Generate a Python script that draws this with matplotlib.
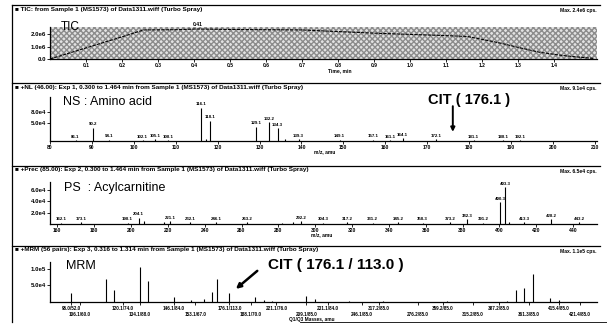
#!/usr/bin/env python3
"""Scanned Analyst-style screen: TIC, NL scan, precursor scan and MRM panels."""
import matplotlib

matplotlib.use("Agg")
import matplotlib.pyplot as plt
from matplotlib.lines import Line2D

plt.rcParams["font.family"] = ["Liberation Sans", "DejaVu Sans"]

W, H = 607, 325

# ---- panel 1: TIC ---------------------------------------------------------
tic_time = [0.0, 0.1, 0.2, 0.26, 0.35, 0.41, 0.5, 0.7, 0.9, 1.0, 1.1, 1.16,
            1.2, 1.25, 1.3, 1.36, 1.42, 1.47, 1.51]
tic_int = [0.0, 0.9e6, 1.8e6, 2.36e6, 2.38e6, 2.44e6, 2.40e6, 2.36e6, 2.10e6,
           2.00e6, 1.90e6, 1.83e6, 1.60e6, 1.30e6, 0.95e6, 0.55e6, 0.30e6,
           0.15e6, 0.05e6]
tic_ticks = [0.1, 0.2, 0.3, 0.4, 0.5, 0.6, 0.7, 0.8, 0.9, 1.0, 1.1, 1.2, 1.3, 1.4]

# ---- panel 2: neutral loss scan (amino acids) -----------------------------
ns_mz = [86.1, 90.2, 94.1, 102.1, 105.1, 108.1, 116.1, 117.1, 118.1, 129.1,
         132.2, 134.3, 136.1, 139.3, 149.1, 157.1, 161.1, 164.1, 172.1,
         181.1, 188.1, 192.1]
ns_int = [0.3e4, 3.6e4, 0.4e4, 0.3e4, 0.5e4, 0.3e4, 9.1e4, 0.6e4, 5.5e4,
          3.9e4, 5.1e4, 3.5e4, 0.6e4, 0.5e4, 0.4e4, 0.4e4, 0.3e4, 0.7e4,
          0.5e4, 0.3e4, 0.3e4, 0.3e4]
ns_labelled = [86.1, 90.2, 94.1, 102.1, 105.1, 108.1, 116.1, 118.1, 129.1,
               132.2, 134.3, 139.3, 149.1, 157.1, 161.1, 164.1, 172.1, 181.1,
               188.1, 192.1]
ns_ticks = list(range(80, 211, 10))

# ---- panel 3: precursor scan (acylcarnitines) -----------------------------
ps_mz = [162.1, 173.1, 198.1, 204.1, 207.1, 218.1, 221.1, 232.1, 246.1,
         263.2, 282.2, 288.2, 292.2, 304.3, 317.2, 331.2, 345.2, 358.3,
         373.2, 382.3, 391.2, 400.3, 403.3, 405.3, 413.3, 428.2, 443.2]
ps_int = [0.2e4, 0.3e4, 0.2e4, 1.1e4, 0.6e4, 0.3e4, 0.5e4, 0.3e4, 0.3e4,
          0.3e4, 0.2e4, 0.3e4, 0.5e4, 0.2e4, 0.3e4, 0.2e4, 0.3e4, 0.2e4,
          0.3e4, 0.8e4, 0.2e4, 3.8e4, 6.5e4, 0.4e4, 0.3e4, 0.8e4, 0.3e4]
ps_labelled = [162.1, 173.1, 198.1, 204.1, 221.1, 232.1, 246.1, 263.2,
               292.2, 304.3, 317.2, 331.2, 345.2, 358.3, 373.2, 382.3, 391.2,
               400.3, 403.3, 413.3, 428.2, 443.2]
ps_ticks = list(range(160, 441, 20))

# ---- panel 4: MRM transitions (index along the Q1/Q3 list) ----------------
mrm_idx = [5, 13, 15, 21, 23, 29, 33, 36, 38, 39, 42, 48, 50, 52, 60, 62,
           70, 78, 93, 107, 109, 111, 113, 117, 119]
mrm_int = [2.6e4, 6.8e4, 3.7e4, 10.5e4, 6.3e4, 1.4e4, 0.5e4, 0.8e4, 3.1e4,
           6.8e4, 2.6e4, 1.4e4, 0.5e4, 0.4e4, 1.9e4, 1.0e4, 0.3e4, 0.2e4,
           0.4e4, 0.3e4, 3.7e4, 4.2e4, 8.4e4, 1.3e4, 0.5e4]
mrm_row1_idx = [5, 17, 29, 42, 53, 65, 77, 92, 105, 119]
mrm_row1_lab = ["96.0/52.0", "120.1/74.0", "146.1/84.0", "176.1/113.0",
                "221.1/76.0", "231.1/84.0", "317.2/85.0", "359.2/85.0",
                "387.2/85.0", "415.4/85.0"]
mrm_row2_idx = [7, 21, 34, 47, 60, 73, 86, 99, 112, 124]
mrm_row2_lab = ["106.1/60.0", "134.1/88.0", "153.1/67.0", "188.1/70.0",
                "209.1/85.0", "246.1/85.0", "276.2/85.0", "315.2/85.0",
                "361.3/85.0", "421.4/85.0"]
mrm_cit_idx = 42

headers = [
    "TIC: from Sample 1 (MS1573) of Data1311.wiff (Turbo Spray)",
    "+NL (46.00): Exp 1, 0.300 to 1.464 min from Sample 1 (MS1573) of Data1311.wiff (Turbo Spray)",
    "+Prec (85.00): Exp 2, 0.300 to 1.464 min from Sample 1 (MS1573) of Data1311.wiff (Turbo Spray)",
    "+MRM (56 pairs): Exp 3, 0.316 to 1.314 min from Sample 1 (MS1573) of Data1311.wiff (Turbo Spray)",
]
max_labels = ["Max. 2.4e6 cps.", "Max. 9.1e4 cps.", "Max. 6.5e4 cps.", "Max. 1.1e5 cps."]

TINY = dict(fontsize=3.6, fontweight="bold")


def px_rect(x0, y0, x1, y1):
    return [x0 / W, 1 - y1 / H, (x1 - x0) / W, (y1 - y0) / H]


def hline(fig, y, x0=12, x1=600, lw=0.9):
    fig.add_artist(Line2D([x0 / W, x1 / W], [1 - y / H, 1 - y / H],
                          transform=fig.transFigure, color="k", lw=lw))


def style(ax):
    for s in ("top", "right"):
        ax.spines[s].set_visible(False)
    for s in ("left", "bottom"):
        ax.spines[s].set_linewidth(0.9)
    ax.tick_params(length=2, width=0.6, pad=1, labelsize=3.6)
    ax.tick_params(axis="y", labelsize=4.4)
    for t in ax.get_xticklabels() + ax.get_yticklabels():
        t.set_fontweight("bold")


def stick(ax, xs, ys, labelled, fmt="{:.1f}"):
    ax.vlines(xs, 0, ys, color="k", lw=0.8)
    for x, y in zip(xs, ys):
        if x in labelled:
            ax.annotate(fmt.format(x), (x, y), xytext=(0, 1),
                        textcoords="offset points", ha="center", va="bottom",
                        fontsize=3.2, fontweight="bold")


def main():
    fig = plt.figure(figsize=(W / 100, H / 100), dpi=100)

    # frame: vertical left border, panel separators, headers
    fig.add_artist(Line2D([12 / W, 12 / W], [1 - 5 / H, 1 - 322 / H],
                          transform=fig.transFigure, color="k", lw=0.9))
    for y, head, mx in zip([5, 83, 166, 246], headers, max_labels):
        hline(fig, y)
        fig.text(15 / W, 1 - (y + 1.5) / H, "\u25a0 " + head, va="top", ha="left",
                 fontsize=4.6, fontweight="bold")
        fig.text(597 / W, 1 - (y + 3) / H, mx, va="top", ha="right", **TINY)
    hline(fig, 322, 300, 607, lw=0.6)

    # ---- TIC
    ax = fig.add_axes(px_rect(50, 27, 597, 59))
    ax.fill_between([0, 1.52], 0, 2.6e6, facecolor="#e2e2e2", hatch="xxxxxx",
                    edgecolor="#8c8c8c", linewidth=0)
    ax.plot(tic_time, tic_int, color="k", lw=0.8, ls=(0, (3, 1)))
    ax.set_xlim(0, 1.52)
    ax.set_ylim(0, 2.6e6)
    ax.set_xticks(tic_ticks, [f"{t:.1f}" for t in tic_ticks])
    ax.set_yticks([0, 1.0e6, 2.0e6], ["0.0", "1.0e6", "2.0e6"])
    style(ax)
    peak = tic_time[tic_int.index(max(tic_int))]
    ax.annotate(f"{peak:.2f}", (peak, max(tic_int)), xytext=(0, 1.5),
                textcoords="offset points", ha="center", va="bottom", **TINY)
    ax.text(0.02, 1.0, "TIC", transform=ax.transAxes, fontsize=8.5,
            va="center", ha="left")
    fig.text(340 / W, 1 - 71 / H, "Time, min", ha="center", va="center", **TINY)

    # ---- NL scan
    ax = fig.add_axes(px_rect(50, 97, 597, 141))
    stick(ax, ns_mz, ns_int, ns_labelled)
    ax.set_xlim(80, 210.5)
    ax.set_ylim(0, 1.2e5)
    ax.set_xticks(ns_ticks, [str(t) for t in ns_ticks])
    ax.set_yticks([5.0e4, 8.0e4], ["5.0e4", "8.0e4"])
    style(ax)
    ax.text(0.024, 0.88, "NS : Amino acid", transform=ax.transAxes,
            fontsize=9, va="center", ha="left")
    ax.annotate("", xy=(176.1, 0.25e5), xytext=(176.1, 0.95e5),
                arrowprops=dict(arrowstyle="-|>", color="k", lw=1.4,
                                shrinkA=0, shrinkB=0, mutation_scale=6))
    ax.text(180.0, 1.12e5, "CIT ( 176.1 )", ha="center", va="center",
            fontsize=10.5, fontweight="bold")
    fig.text(325 / W, 1 - 152 / H, "m/z, amu", ha="center", va="center", **TINY)

    # ---- precursor scan
    ax = fig.add_axes(px_rect(50, 182, 597, 224))
    stick(ax, ps_mz, ps_int, ps_labelled)
    ax.set_xlim(156, 453)
    ax.set_ylim(0, 7.4e4)
    ax.set_xticks(ps_ticks, [str(t) for t in ps_ticks])
    ax.set_yticks([2.0e4, 4.0e4, 6.0e4], ["2.0e4", "4.0e4", "6.0e4"])
    style(ax)
    ax.text(0.025, 0.85, "PS  : Acylcarnitine", transform=ax.transAxes,
            fontsize=9, va="center", ha="left")
    fig.text(322 / W, 1 - 235 / H, "m/z, amu", ha="center", va="center", **TINY)

    # ---- MRM
    ax = fig.add_axes(px_rect(50, 262, 597, 302))
    ax.vlines(mrm_idx, 0, mrm_int, color="k", lw=0.8)
    ax.set_xlim(0, 128)
    ax.set_ylim(0, 1.2e5)
    ax.set_xticks(mrm_row1_idx, mrm_row1_lab)
    ax.set_xticks(mrm_row2_idx, mrm_row2_lab, minor=True)
    ax.set_yticks([5.0e4, 1.0e5], ["5.0e4", "1.0e5"])
    style(ax)
    ax.tick_params(axis="x", which="minor", length=2, width=0.6, pad=5,
                   labelsize=3.3)
    ax.tick_params(axis="x", which="major", labelsize=3.3)
    for t in ax.get_xticklabels(minor=True):
        t.set_fontweight("bold")
    ax.text(0.03, 0.9, "MRM", transform=ax.transAxes, fontsize=9,
            va="center", ha="left")
    cit_h = mrm_int[mrm_idx.index(mrm_cit_idx)]
    ax.annotate("", xy=(mrm_cit_idx + 1, cit_h * 1.3),
                xytext=(mrm_cit_idx + 7, cit_h * 3.8),
                arrowprops=dict(arrowstyle="-|>", color="k", lw=1.8,
                                mutation_scale=7))
    ax.text(mrm_cit_idx + 9, 1.12e5, "CIT ( 176.1 / 113.0 )", fontsize=11,
            fontweight="bold", va="center", ha="left")
    fig.text(312 / W, 1 - 320 / H, "Q1/Q3 Masses, amu", ha="center",
             va="center", fontsize=3.4, fontweight="bold")

    fig.savefig("out.png", dpi=100)


if __name__ == "__main__":
    main()
